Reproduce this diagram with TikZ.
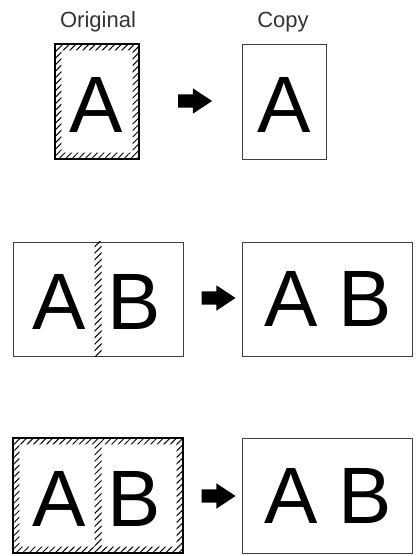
\documentclass[tikz,border=0pt]{standalone}
\usepackage{fontspec}
\setmainfont{Liberation Sans}
\usetikzlibrary{shapes.arrows,patterns.meta}

\begin{document}
\begin{tikzpicture}[x=1pt,y=-1pt,
  page/.style={draw=black!75,line width=0.9pt,inner sep=0pt},
  origpage/.style={draw=black,line width=1.4pt,inner sep=0pt},
  hatch/.style={pattern={Lines[angle=45,distance=4.6pt,line width=1pt]}},
  letter/.style={inner sep=0pt,font=\fontsize{80}{80}\selectfont},
  caption/.style={anchor=base,text=black!80,font=\fontsize{22}{22}\selectfont},
  copyarrow/.style={single arrow,fill=black,inner xsep=0pt,inner ysep=6.5pt,
    minimum height=34pt,single arrow head extend=6pt,single arrow tip angle=67}]
\useasboundingbox (0,0) rectangle (418,556);
% first row: single page
\node[caption] (origlabel) at (98,27.5) {Original};
\node[caption] (copylabel) at (283,27.5) {Copy};
\node[origpage,minimum width=84pt,minimum height=115pt] (o1) at (97,101.5) {};
\fill[hatch,even odd rule] (o1.north west) rectangle (o1.south east)
  ([shift={(7,7)}]o1.north west) rectangle ([shift={(-7,-7)}]o1.south east);
\node[page,minimum width=84pt,minimum height=115pt] (c1) at (284,101.5) {};
\node[letter] (a1) at (96,104.5) {A};
\node[letter] (ca1) at (284,104.5) {A};
\node[copyarrow] (r1) at (190,101) {};
% second row: gutter only
\node[page,minimum width=170pt,minimum height=114pt] (o2) at (98,299) {};
\fill[hatch] ([xshift=-3.5]o2.north) rectangle ([xshift=3.5]o2.south);
\node[page,minimum width=170pt,minimum height=114pt] (c2) at (327,299) {};
\node[letter] (a2) at (59.5,301.5) {A};
\node[letter] (b2) at (134,301.5) {B};
\node[letter] (ca2) at (291,298.5) {A};
\node[letter] (cb2) at (365,298.5) {B};
\node[copyarrow] (r2) at (213.5,298) {};
% third row: frame and gutter
\node[origpage,minimum width=170pt,minimum height=115pt] (o3) at (98,495.5) {};
\fill[hatch,even odd rule] (o3.north west) rectangle (o3.south east)
  ([shift={(7,7)}]o3.north west) rectangle ([shift={(-7,-7)}]o3.south east);
\fill[hatch] ([shift={(-3.5,7)}]o3.north) rectangle ([shift={(3.5,-7)}]o3.south);
\node[page,minimum width=170pt,minimum height=115pt] (c3) at (327,495.5) {};
\node[letter] (a3) at (59.5,499) {A};
\node[letter] (b3) at (134,499) {B};
\node[letter] (ca3) at (291,496) {A};
\node[letter] (cb3) at (365,496) {B};
\node[copyarrow] (r3) at (213.5,496) {};
\end{tikzpicture}
\end{document}
